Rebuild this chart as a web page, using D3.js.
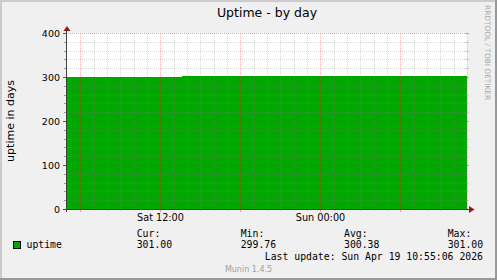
<!DOCTYPE html>
<html>
<head>
<meta charset="utf-8">
<script src="https://cdn.jsdelivr.net/npm/d3@7"></script>
<style>
  body { margin: 0; background: #f0f0f0; }
  svg { display: block; }
  text { font-family: "DejaVu Sans", sans-serif; fill: #000; }
  .mono { font-family: "DejaVu Sans Mono", monospace; }
</style>
</head>
<body>
<svg id="chart" width="497" height="280"></svg>
<script>
// uptime series (days)
const sampleTimes = ['2026-04-18T05:00:00Z', '2026-04-18T13:37:00Z', '2026-04-19T11:00:00Z'];
const uptimeDays = [299.76, 301.0, 301.0];
const timeDomain = ['2026-04-18T05:00:00Z', '2026-04-19T11:00:00Z'];
const yTicks = [0, 100, 200, 300, 400];
const legendHeads = ['Cur:', 'Min:', 'Avg:', 'Max:'];
const legendValues = ['301.00', '299.76', '300.38', '301.00'];
const seriesName = 'uptime';
const lastUpdate = 'Last update: Sun Apr 19 10:55:06 2026';

const svg = d3.select('#chart');
const W = 497;
const H = 280;
const green = '#00a800';

// frame
svg.append('rect').attr('width', W).attr('height', H).attr('fill', '#f0f0f0');
svg.append('rect').attr('x', 0).attr('y', 0).attr('width', W).attr('height', 2).attr('fill', '#cbcbcb');
svg.append('rect').attr('x', 0).attr('y', 0).attr('width', 2).attr('height', H).attr('fill', '#cbcbcb');
svg.append('rect').attr('x', 0).attr('y', H - 2).attr('width', W).attr('height', 2).attr('fill', '#999');
svg.append('rect').attr('x', W - 2).attr('y', 0).attr('width', 2).attr('height', H).attr('fill', '#999');

const x = d3.scaleUtc()
  .domain(timeDomain.map((d) => new Date(d)))
  .range([67, 467]);
const y = d3.scaleLinear().domain([0, 400]).range([209, 33]);

// canvas
svg.append('rect').attr('x', 67).attr('y', 33).attr('width', 400).attr('height', 176).attr('fill', '#fff');

// data area
const data = sampleTimes.map((t, i) => ({ t: new Date(t), v: uptimeDays[i] }));
const area = d3.area()
  .curve(d3.curveStepAfter)
  .x((d) => x(d.t))
  .y0(y(0))
  .y1((d) => Math.floor(y(d.v)));
svg.append('path').datum(data).attr('d', area).attr('fill', green).attr('shape-rendering', 'crispEdges');

// dotted patterns for grid lines (one pixel on, one off)
const minorCol = 'rgba(130,130,130,0.3)';
const majorCol = 'rgba(255,0,0,0.36)';
const majorColV = 'rgba(255,0,0,0.3)';
const defs = svg.append('defs');
function dotPattern(id, w, h, col) {
  defs.append('pattern').attr('id', id).attr('patternUnits', 'userSpaceOnUse')
    .attr('width', w).attr('height', h)
    .append('rect').attr('width', 1).attr('height', 1).attr('fill', col);
}
dotPattern('minV', 1, 2, minorCol);
dotPattern('minH', 2, 1, minorCol);
dotPattern('majV', 1, 2, majorColV);
dotPattern('majH', 2, 1, majorCol);

const minorG = svg.append('g').attr('shape-rendering', 'crispEdges');
const majorG = svg.append('g').attr('shape-rendering', 'crispEdges');
const hours = x.ticks(d3.utcHour.every(1));
hours.forEach((h) => {
  const px = Math.round(x(h));
  if (px < 68) {
    return;
  }
  const major = h.getUTCHours() % 6 === 0;
  const g = major ? majorG : minorG;
  g.append('rect').attr('x', px).attr('y', 33).attr('width', 1).attr('height', 176)
    .attr('fill', major ? 'url(#majV)' : 'url(#minV)');
  g.append('rect').attr('x', px).attr('y', 210).attr('width', 1).attr('height', major ? 2 : 1)
    .attr('fill', major ? majorCol : minorCol);
});
d3.range(20, 401, 20).forEach((v) => {
  const py = Math.round(y(v));
  const major = v % 100 === 0;
  const g = major ? majorG : minorG;
  g.append('rect').attr('x', 67).attr('y', py).attr('width', 400).attr('height', 1)
    .attr('fill', major ? 'url(#majH)' : 'url(#minH)');
  g.append('rect').attr('x', major ? 63 : 64).attr('y', py).attr('width', major ? 4 : 3).attr('height', 1)
    .attr('fill', major ? '#555' : '#999');
  g.append('rect').attr('x', 465).attr('y', py).attr('width', 4).attr('height', 1)
    .attr('fill', major ? majorCol : minorCol);
});

// axes
const axisCol = '#404040';
const arrowCol = '#8b1c1c';
svg.append('line').attr('x1', 63).attr('x2', 469).attr('y1', 209.5).attr('y2', 209.5)
  .attr('stroke', axisCol);
svg.append('line').attr('x1', 66.5).attr('x2', 66.5).attr('y1', 31).attr('y2', 212)
  .attr('stroke', axisCol);
svg.append('path').attr('d', 'M63.5,31L67,26L70.5,31Z').attr('fill', arrowCol);
svg.append('path').attr('d', 'M469,206L474.5,209.5L469,213Z').attr('fill', arrowCol);

// y tick labels
svg.append('g').selectAll('text').data(yTicks).join('text')
  .attr('x', 60)
  .attr('y', (d) => y(d) + 3.5)
  .attr('text-anchor', 'end')
  .attr('font-size', 9.5)
  .text((d) => d);

// x tick labels every 12 hours
const fmt = d3.utcFormat('%a %H:%M');
svg.append('g').selectAll('text').data(x.ticks(d3.utcHour.every(12)).filter((d) => d.getUTCHours() % 12 === 0))
  .join('text')
  .attr('x', (d) => Math.round(x(d)) + 0.5)
  .attr('y', 220.5)
  .attr('text-anchor', 'middle')
  .attr('font-size', 9.7)
  .text((d) => fmt(d));

// title and side labels
svg.append('text').attr('x', 267).attr('y', 17).attr('text-anchor', 'middle')
  .attr('font-size', 12.5).text('Uptime - by day');
svg.append('text').attr('transform', 'translate(13.5,121) rotate(-90)').attr('text-anchor', 'middle')
  .attr('font-size', 11).text('uptime in days');
svg.append('text').attr('transform', 'translate(484.5,5) rotate(90)')
  .attr('font-size', 7.4).style('fill', '#a8a8a8').text('RRDTOOL / TOBI OETIKER');

// legend
const colX = [136.7, 240.7, 344, 447.7];
svg.append('rect').attr('x', 13.5).attr('y', 241.5).attr('width', 7).attr('height', 7)
  .attr('fill', green).attr('stroke', '#000');
svg.append('text').attr('class', 'mono').attr('x', 26.5).attr('y', 247.5)
  .attr('font-size', 9.8).text(seriesName);
svg.append('g').selectAll('text').data(legendHeads).join('text')
  .attr('class', 'mono')
  .attr('x', (d, i) => colX[i])
  .attr('y', 236.5)
  .attr('font-size', 9.8)
  .text((d) => d);
svg.append('g').selectAll('text').data(legendValues).join('text')
  .attr('class', 'mono')
  .attr('x', (d, i) => colX[i])
  .attr('y', 247.5)
  .attr('font-size', 9.8)
  .text((d) => d);
svg.append('text').attr('class', 'mono').attr('x', 483).attr('y', 259.5).attr('text-anchor', 'end')
  .attr('font-size', 9.8).text(lastUpdate);
svg.append('text').attr('x', 248.5).attr('y', 271.5).attr('text-anchor', 'middle')
  .attr('font-size', 8).style('fill', '#a0a0a0').text('Munin 1.4.5');
</script>
</body>
</html>
